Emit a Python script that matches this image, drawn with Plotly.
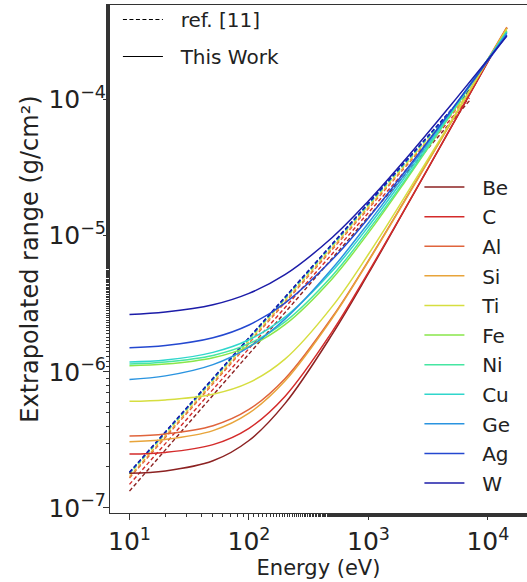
import plotly.graph_objects as go

# ---- data ----
elements = ["Be", "C", "Al", "Si", "Ti", "Fe", "Ni", "Cu", "Ge", "Ag", "W"]
colors = ["#8c2222", "#d42b2b", "#e0643c", "#e8a43a", "#d6de40", "#88e64a",
          "#45e6a2", "#30d6cc", "#2a94e0", "#2448d0", "#1c1ca8"]

# energies (eV) at which the "This Work" curves were read
energy = [10, 20, 50, 100, 200, 500, 1000, 2000, 5000, 10000, 14400]

range_this_work = {
    "Be": [1.80e-7, 1.87e-7, 2.22e-7, 3.13e-7, 5.84e-7, 1.90e-6, 5.28e-6, 1.54e-5, 6.41e-5, 1.90e-4, 3.36e-4],
    "C":  [2.49e-7, 2.56e-7, 2.92e-7, 3.85e-7, 6.60e-7, 1.99e-6, 5.41e-6, 1.55e-5, 6.44e-5, 1.90e-4, 3.36e-4],
    "Al": [3.38e-7, 3.50e-7, 4.02e-7, 5.29e-7, 8.90e-7, 2.54e-6, 6.57e-6, 1.80e-5, 7.01e-5, 1.98e-4, 3.41e-4],
    "Si": [3.07e-7, 3.19e-7, 3.70e-7, 4.97e-7, 8.55e-7, 2.49e-6, 6.49e-6, 1.78e-5, 6.95e-5, 1.96e-4, 3.38e-4],
    "Ti": [6.08e-7, 6.22e-7, 6.85e-7, 8.33e-7, 1.24e-6, 3.04e-6, 7.31e-6, 1.91e-5, 7.10e-5, 1.94e-4, 3.30e-4],
    "Fe": [1.11e-6, 1.14e-6, 1.27e-6, 1.54e-6, 2.22e-6, 4.86e-6, 1.05e-5, 2.46e-5, 7.98e-5, 1.98e-4, 3.19e-4],
    "Ni": [1.14e-6, 1.18e-6, 1.32e-6, 1.61e-6, 2.33e-6, 5.11e-6, 1.10e-5, 2.53e-5, 8.08e-5, 1.97e-4, 3.16e-4],
    "Cu": [1.18e-6, 1.22e-6, 1.39e-6, 1.72e-6, 2.52e-6, 5.52e-6, 1.17e-5, 2.66e-5, 8.26e-5, 1.98e-4, 3.13e-4],
    "Ge": [8.80e-7, 9.34e-7, 1.13e-6, 1.52e-6, 2.44e-6, 5.76e-6, 1.24e-5, 2.80e-5, 8.46e-5, 1.97e-4, 3.08e-4],
    "Ag": [1.50e-6, 1.56e-6, 1.78e-6, 2.21e-6, 3.20e-6, 6.71e-6, 1.35e-5, 2.93e-5, 8.48e-5, 1.93e-4, 2.98e-4],
    "W":  [2.64e-6, 2.75e-6, 3.11e-6, 3.77e-6, 5.17e-6, 9.75e-6, 1.80e-5, 3.57e-5, 9.33e-5, 1.97e-4, 2.93e-4],
}

# ref. [11]: straight (power-law) lines, read at their two ends
energy_ref = [10, 7000]
range_ref = {
    "Be": [1.33e-7, 0.98e-4],
    "C":  [1.49e-7, 1.03e-4],
    "Al": [1.66e-7, 1.085e-4],
    "Si": [1.70e-7, 1.11e-4],
    "Ti": [1.77e-7, 1.13e-4],
    "Fe": [1.80e-7, 1.16e-4],
    "Ni": [1.80e-7, 1.16e-4],
    "Cu": [1.81e-7, 1.17e-4],
    "Ge": [1.82e-7, 1.18e-4],
    "Ag": [1.82e-7, 1.18e-4],
    "W":  [1.83e-7, 1.19e-4],
}

x_tickvals = [10, 100, 1000, 10000]
x_ticktext = ["10<sup>1</sup>", "10<sup>2</sup>", "10<sup>3</sup>", "10<sup>4</sup>"]
y_tickvals = [1e-7, 1e-6, 1e-5, 1e-4]
y_ticktext = ["10<sup>−7</sup>", "10<sup>−6</sup>", "10<sup>−5</sup>", "10<sup>−4</sup>"]

FONT = "DejaVu Sans"
NB = "\u00a0"
fig = go.Figure()

# dashed reference lines (drawn first, under the solid curves)
for el, col in zip(elements, colors):
    fig.add_trace(go.Scatter(
        x=energy_ref, y=range_ref[el], mode="lines",
        line=dict(color=col, width=1.4, dash="4px,2.5px"),
        showlegend=False, hoverinfo="skip"))

# solid "This Work" curves
for el, col in zip(elements, colors):
    fig.add_trace(go.Scatter(
        x=energy, y=range_this_work[el], mode="lines", name=NB * 2 + el,
        line=dict(color=col, width=1.5, shape="spline", smoothing=1.0),
        legendgroup=el, legend="legend"))

# style legend (top-left)
fig.add_trace(go.Scatter(x=[None], y=[None], mode="lines", name=NB * 2 + "ref. [11]",
                         line=dict(color="black", width=1.2, dash="4px,2.5px"),
                         legend="legend2", legendgroup="ref"))
fig.add_trace(go.Scatter(x=[None], y=[None], mode="lines", name=NB * 2 + "This Work",
                         line=dict(color="black", width=1.2),
                         legend="legend2", legendgroup="tw"))

axis_common = dict(
    type="log", showgrid=False, zeroline=False, automargin=False,
    showline=True, linecolor="#333333", linewidth=1,
    ticks="outside", ticklen=6, tickwidth=1, tickcolor="#333333",
    minor=dict(ticks="outside", ticklen=3, tickwidth=0.8, tickcolor="#333333", showgrid=False),
    tickfont=dict(family=FONT, size=25, color="#222222"),
)

fig.update_layout(
    width=527, height=582,
    margin=dict(l=110, r=0, t=5, b=69),
    paper_bgcolor="white", plot_bgcolor="white",
    font=dict(family=FONT, color="#222222"),
    xaxis=dict(axis_common, range=[0.837, 4.327], mirror=True,
               tickvals=x_tickvals, ticktext=x_ticktext,
               title=dict(text="Energy (eV)", font=dict(family=FONT, size=21), standoff=5)),
    yaxis=dict(axis_common, range=[-7.037, -3.305], mirror=False,
               tickvals=y_tickvals, ticktext=y_ticktext, ticklabelstandoff=-8,
               title=dict(text="Extrapolated range (g/cm²)", font=dict(family=FONT, size=24), standoff=2)),
    legend=dict(x=0.742, y=0.680, xanchor="left", yanchor="top",
                bgcolor="rgba(0,0,0,0)", font=dict(family=FONT, size=20),
                itemwidth=40, traceorder="grouped", tracegroupgap=0.6),
    legend2=dict(x=0.019, y=1.01, xanchor="left", yanchor="top",
                 bgcolor="rgba(0,0,0,0)", font=dict(family=FONT, size=20),
                 itemwidth=40, traceorder="grouped", tracegroupgap=8),
)

fig.write_html("out.html", config={"displayModeBar": False},
               post_script="document.body.style.margin='0';")
